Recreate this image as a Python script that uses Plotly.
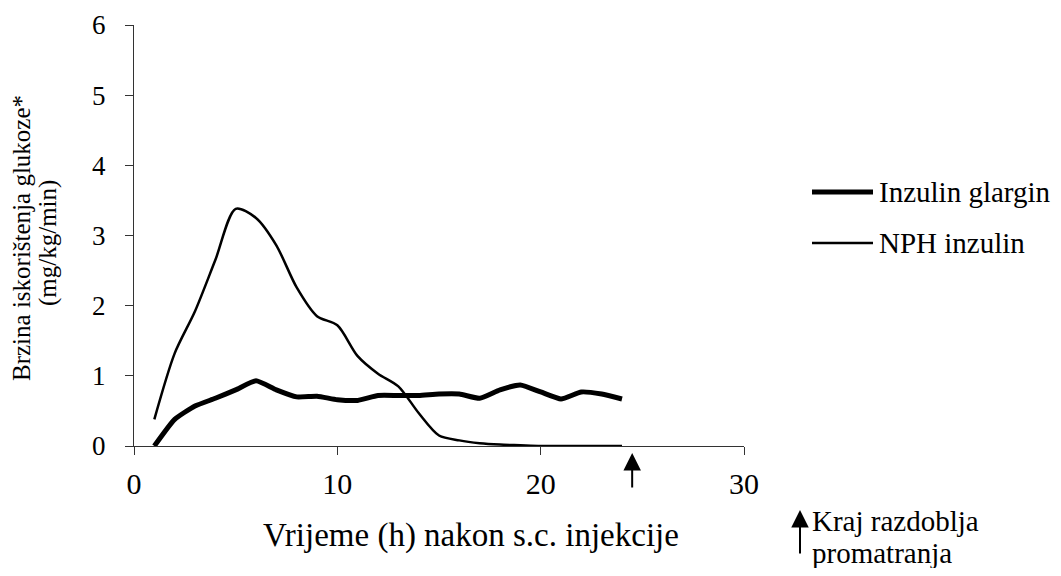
import plotly.graph_objects as go

hours = list(range(1, 25))
glargin = [0.0, 0.38, 0.57, 0.68, 0.80, 0.93, 0.80, 0.70, 0.71, 0.66, 0.65, 0.72,
           0.72, 0.72, 0.74, 0.74, 0.68, 0.80, 0.87, 0.77, 0.67, 0.77, 0.74, 0.67]
nph = [0.38, 1.32, 1.92, 2.65, 3.38, 3.25, 2.86, 2.26, 1.85, 1.72, 1.28, 1.03,
       0.85, 0.47, 0.15, 0.08, 0.04, 0.02, 0.01, 0.0, 0.0, 0.0, 0.0, 0.0]
x_ticks = [0, 10, 20, 30]
y_ticks = [0, 1, 2, 3, 4, 5, 6]
end_hour = 24.5

FONT = "Liberation Serif"
INK = "black"
PW, PH = 610, 421   # plot area size
L, T = 126, 17      # page has 8px body margin
W, H = 1053, 560

fig = go.Figure()
fig.add_trace(go.Scatter(x=hours, y=glargin, mode="lines", name="Inzulin glargin",
                         line=dict(color=INK, width=5, shape="spline", smoothing=0.5),
                         showlegend=False))
fig.add_trace(go.Scatter(x=hours, y=nph, mode="lines", name="NPH inzulin",
                         line=dict(color=INK, width=2.5, shape="spline", smoothing=0.8),
                         showlegend=False))

fig.update_layout(
    width=W, height=H,
    margin=dict(l=L, r=W - L - PW, t=T, b=H - T - PH, autoexpand=False),
    paper_bgcolor="white", plot_bgcolor="white",
    xaxis=dict(range=[0, 30], tickvals=x_ticks, showgrid=False, zeroline=False,
               showline=True, linecolor="#333", linewidth=1.2, ticks="outside",
               ticklen=8, tickcolor="#333",
               tickfont=dict(size=30, family=FONT, color=INK),
               ticklabelstandoff=3, automargin=False),
    yaxis=dict(range=[0, 6], tickvals=y_ticks, showgrid=False, zeroline=False,
               showline=True, linecolor="#333", linewidth=1.2, ticks="outside",
               ticklen=8, tickcolor="#333",
               tickfont=dict(size=27, family=FONT, color=INK),
               ticklabelstandoff=14, automargin=False),
)

def px_x(px):
    return (px - 134) / PW

def px_y(py):
    return (446 - py) / PH

def text(label, x, y, size, xanchor="center", angle=0):
    fig.add_annotation(text=label, xref="paper", yref="paper", x=px_x(x), y=px_y(y),
                       showarrow=False, textangle=angle, xanchor=xanchor, yanchor="middle",
                       font=dict(size=size, family=FONT, color=INK))

# axis titles
text("Vrijeme (h) nakon s.c. injekcije", 471, 535, 33)
text("Brzina iskorištenja glukoze*", 21, 238, 25, angle=-90)
text("(mg/kg/min)", 48, 243, 25, angle=-90)

# manual legend
legend_items = [("Inzulin glargin", 5, 192), ("NPH inzulin", 2.5, 243)]
for label, w, py in legend_items:
    fig.add_shape(type="line", xref="paper", yref="paper",
                  x0=px_x(812), x1=px_x(873), y0=px_y(py), y1=px_y(py),
                  line=dict(color=INK, width=w))
    text(label, 877, py, 29, xanchor="left")

# end of observation arrow on axis
fig.add_annotation(x=end_hour, y=px_y(453), xref="x", yref="paper", text="",
                   showarrow=True, arrowhead=2, arrowsize=1.75, arrowwidth=2, arrowcolor=INK,
                   ax=0, ay=36)
# arrow in note
fig.add_annotation(x=px_x(800), y=px_y(510), xref="paper", yref="paper", text="",
                   showarrow=True, arrowhead=2, arrowsize=1.75, arrowwidth=2, arrowcolor=INK,
                   ax=0, ay=45)
text("Kraj razdoblja", 810, 521, 29, xanchor="left")
text("promatranja", 810, 553, 29, xanchor="left")

fig.write_html("out.html")
